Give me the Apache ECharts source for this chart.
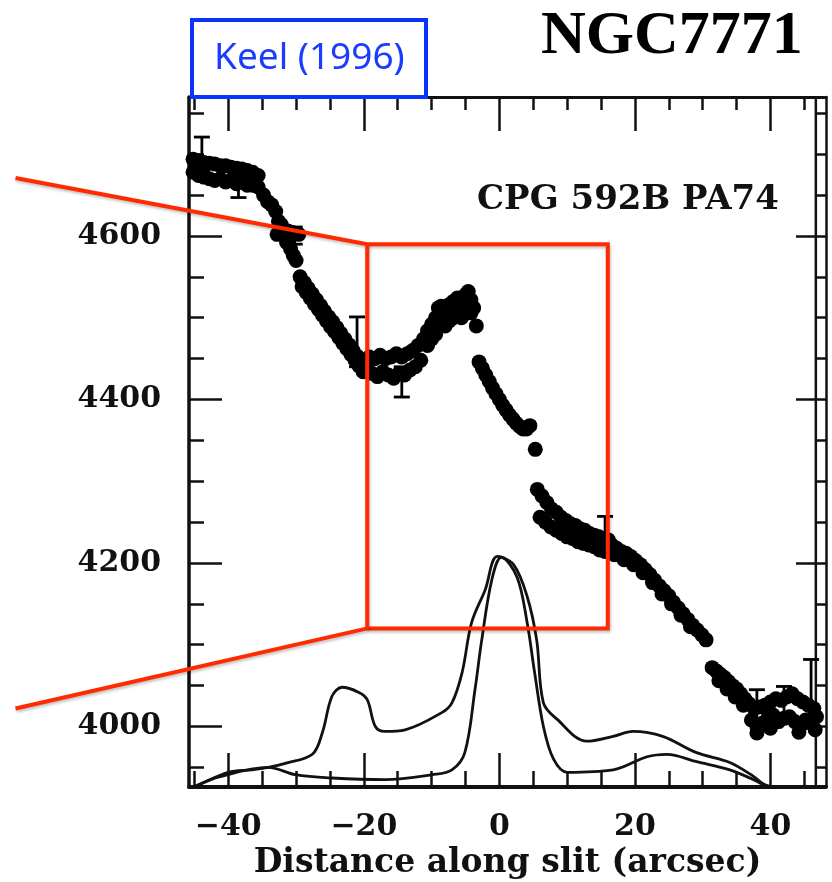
<!DOCTYPE html>
<html>
<head>
<meta charset="utf-8">
<script src="https://cdn.jsdelivr.net/npm/echarts@6/dist/echarts.min.js"></script>
<style>html,body{margin:0;padding:0;background:#fff}#c{width:832px;height:882px}</style>
</head>
<body>
<div id="c"></div>
<script>
// ---- velocity points (distance along slit in arcsec, velocity km/s)
const velX = [
  -45.2,-44.4,-43.6,-42.8,-42.0,-41.2,-40.4,-39.6,-38.8,-38.0,-37.2,-36.4,-35.6,
  -45.2,-44.4,-43.6,-42.8,-42.0,-41.2,-40.4,-39.6,-38.8,-38.0,-37.2,-36.4,-35.6,
  -34.8,-34.2,-33.6,-33.0,-32.6,-32.2,
  -32.8,-32.0,-31.2,-30.4,-29.6,-31.4,-30.8,-30.4,-30.0,
  -29.4,-28.8,-28.2,-27.6,-27.0,-26.4,-25.8,-25.2,-24.6,-24.0,-23.4,-22.8,-22.2,-21.6,-21.0,-20.4,-19.8,
  -29.1,-28.5,-27.9,-27.3,-26.7,-26.1,-25.5,-24.9,-24.3,-23.7,-23.1,-22.5,-21.9,-21.3,-20.7,-20.1,
  -19.2,-18.4,-17.6,-16.8,-16.0,-15.2,-14.4,-13.6,-12.8,-12.0,-11.2,
  -18.8,-18.0,-17.2,-16.4,-15.6,-14.8,-14.0,-13.2,-12.4,-11.6,
  -10.6,-10.0,-9.4,-9.0,-8.6,-8.0,-7.4,-6.8,-6.2,-5.6,-5.0,-4.6,-4.2,-3.8,-3.4,
  -10.6,-10.0,-9.4,-9.0,-8.6,-8.0,-7.4,-6.8,-6.2,-5.6,-5.0,-4.6,-4.2,
  -3.0,-2.5,-2.0,-1.5,-1.0,-0.5,0.0,0.5,1.0,1.5,2.0,2.5,3.0,3.5,4.0,4.5,5.3,
  5.6,6.3,7.0,7.7,8.4,9.1,9.8,10.5,11.2,11.9,12.6,13.3,14.0,14.7,15.4,16.1,
  6.0,6.8,7.6,8.4,9.2,10.0,10.8,11.6,12.4,13.2,14.0,14.8,15.6,
  16.6,17.3,18.0,18.7,19.4,20.1,20.8,21.5,22.2,22.9,23.6,24.3,25.0,25.7,26.4,27.1,27.8,28.5,29.2,29.9,30.5,
  17.0,18.4,19.8,21.2,22.6,24.0,25.4,26.8,28.2,
  31.4,32.0,32.6,33.2,33.8,34.4,35.0,35.6,36.2,
  32.4,33.6,34.8,36.0,
  36.8,37.6,38.4,39.2,40.0,40.8,41.6,42.4,43.2,44.0,44.8,45.6,46.4,
  37.2,38.0,38.8,39.6,40.4,41.2,42.0,42.8,43.6,44.4,45.2,46.0,46.8,
  38.0,40.0,44.2,46.6];
const velY = [
  4694,4692,4690,4689,4688,4686,4686,4684,4683,4682,4680,4678,4674,
  4678,4674,4672,4670,4668,4670,4666,4668,4664,4666,4662,4662,4660,
  4650,4642,4638,4630,4618,4614,
  4602,4604,4606,4604,4602,4592,4584,4576,4570,
  4550,4543,4536,4529,4522,4515,4508,4501,4495,4488,4481,4474,4467,4460,4453,4446,4441,
  4538,4531,4524,4517,4510,4503,4496,4489,4483,4476,4469,4462,4455,4448,4441,4434,
  4452,4450,4454,4450,4452,4456,4452,4456,4460,4466,4474,
  4432,4428,4434,4430,4426,4432,4430,4436,4440,4448,
  4484,4492,4500,4512,4514,4508,4516,4520,4524,4518,4528,4532,4522,4512,4490,
  4466,4474,4480,4488,4492,4490,4496,4500,4506,4500,4510,4514,4506,
  4446,4438,4430,4422,4414,4407,4400,4393,4387,4381,4376,4371,4367,4364,4364,4368,4339,
  4290,4282,4274,4266,4262,4256,4252,4248,4246,4242,4240,4236,4234,4232,4230,4228,
  4256,4250,4244,4240,4236,4232,4230,4226,4224,4222,4220,4216,4214,
  4222,4218,4214,4212,4208,4203,4198,4192,4186,4179,4172,4166,4160,4152,4145,4138,4131,4124,4118,4112,4106,
  4210,4204,4198,4188,4176,4162,4150,4136,4122,
  4072,4068,4064,4060,4055,4050,4046,4040,4034,
  4056,4046,4036,4026,
  4028,4022,4024,4026,4030,4034,4032,4036,4040,4034,4030,4026,4022,
  4008,4000,4004,4010,4014,4006,4010,4012,4006,4000,4008,4004,4012,
  3992,3998,3993,3996];
// ---- error bars
const errX  = [-43.9,-38.5,-30.2,-21.0,-14.4,15.6,38.0,42.0,46.0];
const errLo = [4680,4647,4590,4440,4403,4215,4005,4010,4000];
const errHi = [4721,4684,4611,4501,4440,4257,4045,4049,4082];
// ---- light profiles (drawn on the velocity scale)
const profBroadX = [-45.5,-44.9,-40,-36.5,-34.1,-31.6,-27.6,-26.1,-24.7,-23.2,-20.8,-19.5,-18.3,-16.9,-13.9,-8.5,-7,-5.5,-4.1,-2.1,-0.3,
  2.1,4.1,5.5,6.5,8.5,12.9,16.8,19.7,24.1,29.1,34,37.5,38.9,40];
const profBroadY = [3926,3927,3944,3947,3950,3955,3966,3993,4037,4048,4042,4033,4000,3994,3996,4017,4029,4066,4127,4167,4208,
  4198,4159,4106,4029,4009,3982,3988,3994,3988,3968,3956,3939,3930,3926];
const profNarrowX = [-45.5,-44.9,-41.5,-34.1,-30.1,-24.7,-16.9,-9.9,-7,-5.1,-3.6,-2.6,-1.1,0.3,
  2.6,4.1,5.2,6.5,8,10,16.8,21.8,24.7,29.1,34,37.5,38.9,40.5];
const profNarrowY = [3926,3927,3938,3950,3941,3937,3935,3941,3947,3968,4045,4106,4180,4207,
  4183,4127,4066,4000,3960,3944,3947,3963,3966,3957,3947,3935,3929,3926];
// ---- axis ticks
const xMajor = [-40,-20,0,20,40];
const xMinor = [-45,-35,-30,-25,-15,-10,-5,5,10,15,25,30,35,45];
const yMajor = [4000,4200,4400,4600];
const yMinor = [3950,4050,4100,4150,4250,4300,4350,4450,4500,4550,4650,4700,4750];
// ---- red zoom-box annotation (data coordinates)
const boxX = [-71.4,-19.5,16.0,16.0,-19.5,-71.4];
const boxY = [4671,4590,4590,4120,4120,4022];
const boxEdgeX = [-19.5,-19.5];
const boxEdgeY = [4590,4120];
const frameInnerX = [46.7];

const XMIN = -45.8, XMAX = 48.2, YMIN = 3926, YMAX = 4770;
const zip = (a,b) => a.map((v,i)=>[v,b[i]]);
const fmt = v => (v < 0 ? '\u2212' : '') + Math.abs(v);
const lblFont = {fontFamily:'DejaVu Serif', fontWeight:'bold', fontSize:30, color:'#111'};

function xAx(pos, ticks, len, labels, lw) {
  return {type:'value', position:pos, min:XMIN, max:XMAX, splitLine:{show:false},
    axisLine:{show:lw>0, onZero:false, lineStyle:{color:'#111', width:lw}},
    axisTick:{show:true, inside:true, length:len, customValues:ticks, lineStyle:{color:'#111', width:2.5}},
    axisLabel:labels ? Object.assign({show:true, customValues:ticks, formatter:fmt, margin:25}, lblFont) : {show:false}};
}
function yAx(pos, ticks, len, labels, lw) {
  return {type:'value', position:pos, min:YMIN, max:YMAX, splitLine:{show:false},
    axisLine:{show:lw>0, onZero:false, lineStyle:{color:'#111', width:lw}},
    axisTick:{show:true, inside:true, length:len, customValues:ticks, lineStyle:{color:'#111', width:2.5}},
    axisLabel:labels ? Object.assign({show:true, customValues:ticks, margin:28, formatter:v=>String(v)}, lblFont) : {show:false}};
}
const redStyle = {stroke:'#ff2a00', lineWidth:4, fill:null, shadowColor:'rgba(0,0,0,0.25)', shadowBlur:3, shadowOffsetX:1, shadowOffsetY:2};

const chart = echarts.init(document.getElementById('c'), null, {renderer:'canvas'});
const bottomAxis = xAx('bottom', xMajor, 34, true, 4);
bottomAxis.name = 'Distance along slit (arcsec)';
bottomAxis.nameLocation = 'middle';
bottomAxis.nameGap = 57;
bottomAxis.nameTextStyle = {fontFamily:'DejaVu Serif', fontWeight:'bold', fontSize:33, color:'#111'};

chart.setOption({
  animation:false,
  backgroundColor:'#fff',
  title:[
    {text:'NGC7771', left:541, top:6, padding:0, textStyle:{fontFamily:'Liberation Serif', fontWeight:'bold', fontSize:62, color:'#000'}},
    {text:'Keel (1996)', left:192, top:20, padding:[20,22], borderColor:'#0a33ff', borderWidth:4, backgroundColor:'#fff', z:10,
      textStyle:{fontFamily:'Noto Sans', fontWeight:'normal', fontSize:37, color:'#1a3cff'}},
    {text:'CPG 592B PA74', left:477, top:183, padding:0, textStyle:{fontFamily:'DejaVu Serif', fontWeight:'bold', fontSize:34, color:'#111'}}
  ],
  grid:{left:189, right:6, top:97, bottom:95, containLabel:false, outerBoundsMode:'none'},
  xAxis:[
    bottomAxis,
    xAx('bottom', xMinor, 16, false, 0),
    xAx('top', xMajor, 34, false, 3),
    xAx('top', xMinor, 13, false, 0)
  ],
  yAxis:[
    yAx('left', yMajor, 33, true, 3.5),
    yAx('left', yMinor, 15, false, 0),
    yAx('right', yMajor, 30, false, 2.5),
    yAx('right', yMinor, 11, false, 0)
  ],
  series:[
    {type:'custom', name:'frameInner', data:frameInnerX.map(x=>[x]), z:2, silent:true,
      renderItem:(params, api) => {
        const a = api.coord([api.value(0), YMIN]);
        const b = api.coord([api.value(0), YMAX]);
        return {type:'line', shape:{x1:a[0], y1:a[1], x2:b[0], y2:b[1]}, style:{stroke:'#111', lineWidth:2.5}};
      }},
    {type:'line', name:'broad', data:zip(profBroadX, profBroadY), smooth:0.35, showSymbol:false,
      lineStyle:{color:'#111', width:2.8}, z:3},
    {type:'line', name:'narrow', data:zip(profNarrowX, profNarrowY), smooth:0.35, showSymbol:false,
      lineStyle:{color:'#111', width:2.8}, z:3},
    {type:'custom', name:'err', data:errX.map((x,i)=>[x, errLo[i], errHi[i]]), z:4,
      renderItem:(params, api) => {
        const lo = api.coord([api.value(0), api.value(1)]);
        const hi = api.coord([api.value(0), api.value(2)]);
        const w = 8;
        const st = {stroke:'#000', lineWidth:2.8};
        return {type:'group', children:[
          {type:'line', shape:{x1:lo[0], y1:lo[1], x2:hi[0], y2:hi[1]}, style:st},
          {type:'line', shape:{x1:lo[0]-w, y1:lo[1], x2:lo[0]+w, y2:lo[1]}, style:st},
          {type:'line', shape:{x1:hi[0]-w, y1:hi[1], x2:hi[0]+w, y2:hi[1]}, style:st}
        ]};
      }},
    {type:'scatter', name:'velocity', data:zip(velX, velY), symbol:'circle', symbolSize:15,
      itemStyle:{color:'#000', opacity:1}, z:5},
    {type:'custom', name:'zoombox', data:[[0]], clip:false, z:8, silent:true,
      renderItem:(params, api) => {
        const pts = boxX.map((x,i)=>api.coord([x, boxY[i]]));
        const edge = boxEdgeX.map((x,i)=>api.coord([x, boxEdgeY[i]]));
        return {type:'group', children:[
          {type:'polyline', shape:{points:pts}, style:redStyle},
          {type:'polyline', shape:{points:edge}, style:redStyle}
        ]};
      }}
  ]
});
</script>
</body>
</html>
